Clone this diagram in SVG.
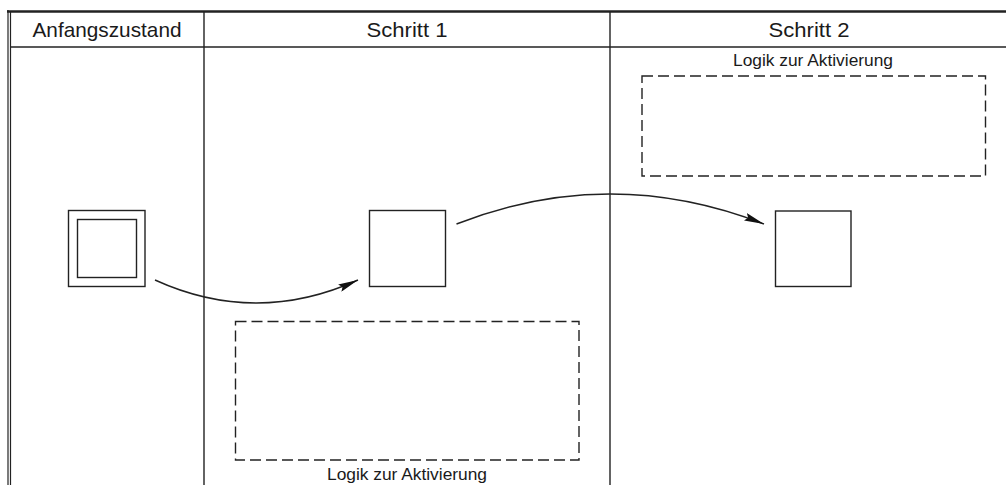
<svg xmlns="http://www.w3.org/2000/svg" width="1006" height="485" viewBox="0 0 1006 485">
<style>
.frame{fill:none;stroke:#222;}
.box{fill:none;stroke:#222;stroke-width:1.4;}
.dash{fill:none;stroke:#222;stroke-width:1.4;stroke-dasharray:11 5;}
.conn{fill:none;stroke:#222;stroke-width:1.4;}
.hdr{font-family:"Liberation Sans",Arial,sans-serif;font-size:21px;fill:#1a1a1a;text-anchor:middle;}
.lbl{font-family:"Liberation Sans",Arial,sans-serif;font-size:16px;fill:#1a1a1a;text-anchor:middle;}
</style>
<defs>
<marker id="arr" viewBox="0 0 20 8" refX="20" refY="4" markerWidth="20" markerHeight="8" markerUnits="userSpaceOnUse" orient="auto">
<path d="M0,0 L20,4 L0,8 L3,4 Z" fill="#111"/>
</marker>
</defs>
<rect width="1006" height="485" fill="#fff"/>
<g id="frame">
<line class="frame" x1="7" y1="11.5" x2="1006" y2="11.5" stroke-width="2.5"/>
<line class="frame" x1="10" y1="47" x2="1006" y2="47" stroke-width="1.6"/>
<line class="frame" x1="8" y1="10" x2="8" y2="485" stroke-width="1.2"/>
<line class="frame" x1="10.5" y1="12" x2="10.5" y2="485" stroke-width="1.2"/>
<line class="frame" x1="204" y1="12" x2="204" y2="485" stroke-width="1.4"/>
<line class="frame" x1="610" y1="12" x2="610" y2="485" stroke-width="1.4"/>
<text class="hdr" x="107" y="36.5" textLength="149" lengthAdjust="spacingAndGlyphs">Anfangszustand</text>
<text class="hdr" x="407" y="36.5" textLength="81" lengthAdjust="spacingAndGlyphs">Schritt 1</text>
<text class="hdr" x="809" y="36.5" textLength="81" lengthAdjust="spacingAndGlyphs">Schritt 2</text>
</g>
<g id="initial">
<rect class="box" x="68.5" y="210.5" width="76.5" height="76"/>
<rect class="box" x="77.5" y="219.5" width="59" height="58"/>
</g>
<g id="step1">
<rect class="box" x="369.5" y="210.5" width="76" height="76"/>
</g>
<g id="step2">
<rect class="box" x="775.5" y="211" width="75.5" height="75.5"/>
</g>
<g id="logic1">
<rect class="dash" x="235.5" y="321.5" width="343.5" height="138.5"/>
<text class="lbl" x="407" y="479.5" textLength="160" lengthAdjust="spacingAndGlyphs">Logik zur Aktivierung</text>
</g>
<g id="logic2">
<rect class="dash" x="642" y="76" width="343.5" height="100"/>
<text class="lbl" x="813" y="66" textLength="160" lengthAdjust="spacingAndGlyphs">Logik zur Aktivierung</text>
</g>
<g id="connectors">
<path class="conn" d="M155,280 Q256,326 358,280" marker-end="url(#arr)"/>
<path class="conn" d="M456.5,224 Q610,164 764,224" marker-end="url(#arr)"/>
</g>
</svg>
